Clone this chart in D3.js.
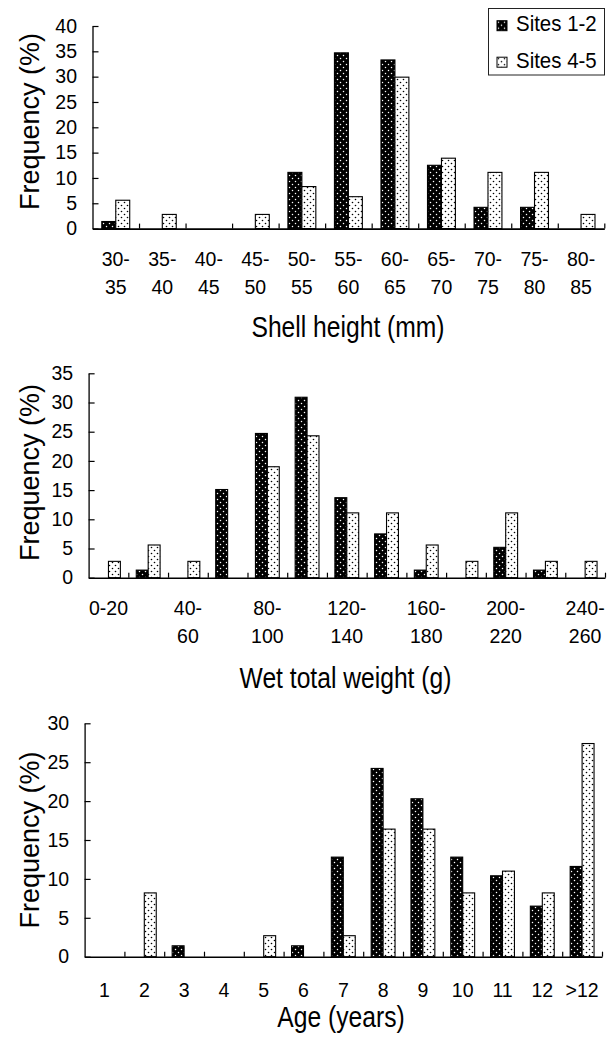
<!DOCTYPE html>
<html>
<head>
<meta charset="utf-8">
<script src="https://cdn.jsdelivr.net/npm/d3@7"></script>
<style>
  body { margin: 0; background: #fff; }
  svg { display: block; }
</style>
</head>
<body>
<div id="chart"></div>
<script>
// Data (frequency, %)
var shellCats = ["30-35", "35-40", "40-45", "45-50", "50-55", "55-60", "60-65", "65-70", "70-75", "75-80", "80-85"];
var shellSites12 = [1.4, 0, 0, 0, 11.1, 34.7, 33.3, 12.5, 4.2, 4.2, 0];
var shellSites45 = [5.6, 2.8, 0, 2.8, 8.3, 6.3, 29.9, 13.9, 11.1, 11.1, 2.8];
var shellLabels = [["30-", "35"], ["35-", "40"], ["40-", "45"], ["45-", "50"], ["50-", "55"], ["55-", "60"],
                   ["60-", "65"], ["65-", "70"], ["70-", "75"], ["75-", "80"], ["80-", "85"]];

var weightCats = ["0-20", "20-40", "40-60", "60-80", "80-100", "100-120", "120-140", "140-160",
                  "160-180", "180-200", "200-220", "220-240", "240-260"];
var weightSites12 = [0, 1.3, 0, 15.1, 24.7, 30.9, 13.7, 7.5, 1.3, 0, 5.2, 1.3, 0];
var weightSites45 = [2.8, 5.6, 2.8, 0, 19.0, 24.3, 11.1, 11.1, 5.6, 2.8, 11.1, 2.8, 2.8];
var weightLabels = [["0-20"], [], ["40-", "60"], [], ["80-", "100"], [], ["120-", "140"], [],
                    ["160-", "180"], [], ["200-", "220"], [], ["240-", "260"]];

var ageCats = ["1", "2", "3", "4", "5", "6", "7", "8", "9", "10", "11", "12", ">12"];
var ageSites12 = [0, 0, 1.4, 0, 0, 1.4, 12.8, 24.2, 20.3, 12.8, 10.4, 6.5, 11.6];
var ageSites45 = [0, 8.2, 0, 0, 2.7, 0, 2.7, 16.4, 16.4, 8.2, 11.0, 8.2, 27.4];
var ageLabels = ageCats.map(function(d) { return [d]; });

var seriesNames = ["Sites 1-2", "Sites 4-5"];

var W = 616, H = 1041;
var font = '"Liberation Sans", Arial, Helvetica, sans-serif';

var svg = d3.select("#chart")
    .append("svg")
    .attr("width", W)
    .attr("height", H)
    .style("font-family", font);

// dotted fills
var defs = svg.append("defs");
var pd = defs.append("pattern")
    .attr("id", "dark")
    .attr("patternUnits", "userSpaceOnUse")
    .attr("width", 6).attr("height", 6);
pd.append("rect").attr("width", 6).attr("height", 6).attr("fill", "#000");
pd.append("circle").attr("cx", 1.5).attr("cy", 1.5).attr("r", 0.75).attr("fill", "#fff");
pd.append("circle").attr("cx", 4.5).attr("cy", 4.5).attr("r", 0.75).attr("fill", "#fff");

var pl = defs.append("pattern")
    .attr("id", "light")
    .attr("patternUnits", "userSpaceOnUse")
    .attr("width", 6).attr("height", 6);
pl.append("rect").attr("width", 6).attr("height", 6).attr("fill", "#fff");
pl.append("circle").attr("cx", 1.5).attr("cy", 1.5).attr("r", 0.8).attr("fill", "#000");
pl.append("circle").attr("cx", 4.5).attr("cy", 4.5).attr("r", 0.8).attr("fill", "#000");

var fills = ["url(#dark)", "url(#light)"];

function panel(cfg) {
    var n = cfg.cats.length;

    var x = d3.scaleBand()
        .domain(cfg.cats)
        .range([cfg.x0, cfg.x1])
        .paddingInner(0.4)
        .paddingOuter(0.2);

    var xSub = d3.scaleBand()
        .domain([0, 1])
        .range([0, x.bandwidth()]);

    // boundaries between categories, for the tick marks
    var xEdge = d3.scaleLinear()
        .domain([0, n])
        .range([cfg.x0, cfg.x1]);

    var y = d3.scaleLinear()
        .domain([0, cfg.max])
        .range([cfg.y0, cfg.yTop]);

    var g = svg.append("g");

    // bars (zero values are not drawn)
    var bars = [];
    cfg.cats.forEach(function(c, i) {
        [cfg.s1[i], cfg.s2[i]].forEach(function(v, j) {
            if (v > 0) bars.push({ cat: c, s: j, v: v });
        });
    });
    g.selectAll("rect.bar")
        .data(bars)
        .enter()
        .append("rect")
        .attr("class", "bar")
        .attr("x", function(d) { return x(d.cat) + xSub(d.s); })
        .attr("y", function(d) { return y(d.v); })
        .attr("width", xSub.bandwidth())
        .attr("height", function(d) { return cfg.y0 - y(d.v); })
        .attr("fill", function(d) { return fills[d.s]; })
        .attr("stroke", "#000")
        .attr("stroke-width", 1.1);

    // x axis: ticks pointing up at the category edges
    var xAxis = g.append("g")
        .attr("transform", "translate(0," + cfg.y0 + ")")
        .call(d3.axisBottom(xEdge)
            .tickValues(d3.range(1, n + 1))
            .tickSize(-5)
            .tickSizeOuter(0)
            .tickFormat(""));
    xAxis.select(".domain").attr("stroke-width", 1.6);
    xAxis.selectAll(".tick line").attr("stroke-width", 1.2);

    // y axis: ticks pointing inside
    var yAxis = g.append("g")
        .attr("transform", "translate(" + cfg.x0 + ",0)")
        .call(d3.axisLeft(y)
            .tickValues(d3.range(0, cfg.max + 1, 5))
            .tickSize(-6)
            .tickSizeOuter(0)
            .tickPadding(15.5));
    yAxis.select(".domain").attr("stroke-width", 1.3);
    yAxis.selectAll(".tick line").attr("stroke-width", 1.2);
    yAxis.selectAll(".tick text")
        .attr("font-family", font)
        .attr("font-size", 19.5)
        .attr("fill", "#000");

    // category labels under the axis
    var lab = g.selectAll("text.cat")
        .data(cfg.labels)
        .enter()
        .append("text")
        .attr("class", "cat")
        .attr("text-anchor", "middle")
        .attr("font-size", 19.5)
        .attr("transform", function(d, i) {
            return "translate(" + (x(cfg.cats[i]) + x.bandwidth() / 2) + "," + (cfg.y0 + cfg.labOff) + ")";
        });
    lab.selectAll("tspan")
        .data(function(d) { return d; })
        .enter()
        .append("tspan")
        .attr("x", 0)
        .attr("y", function(d, k) { return k * 27.5; })
        .text(function(d) { return d; });

    // axis titles
    g.append("text")
        .attr("text-anchor", "middle")
        .attr("font-size", 29)
        .attr("transform", "translate(" + cfg.titleX + "," + cfg.titleY + ") scale(0.85,1)")
        .text(cfg.title);

    g.append("text")
        .attr("text-anchor", "middle")
        .attr("font-size", 27)
        .attr("transform", "translate(39.4," + cfg.yTitleY + ") rotate(-90)")
        .text("Frequency (%)");
}

panel({
    cats: shellCats, s1: shellSites12, s2: shellSites45, labels: shellLabels, max: 40,
    x0: 92.5, x1: 604.3, y0: 228.6, yTop: 26, labOff: 37.4,
    title: "Shell height (mm)", titleX: 348, titleY: 337.3, yTitleY: 121.5
});

panel({
    cats: weightCats, s1: weightSites12, s2: weightSites45, labels: weightLabels, max: 35,
    x0: 88.6, x1: 605, y0: 577.7, yTop: 373.3, labOff: 37.3,
    title: "Wet total weight (g)", titleX: 345.5, titleY: 688, yTitleY: 472.5
});

panel({
    cats: ageCats, s1: ageSites12, s2: ageSites45, labels: ageLabels, max: 30,
    x0: 84.6, x1: 602, y0: 956.7, yTop: 723.3, labOff: 40.6,
    title: "Age (years)", titleX: 341, titleY: 1026.7, yTitleY: 840
});

// legend
var legend = svg.append("g");
legend.append("rect")
    .attr("x", 488.5).attr("y", 8.5)
    .attr("width", 116).attr("height", 66.5)
    .attr("fill", "#fff")
    .attr("stroke", "#222")
    .attr("stroke-width", 1);

var items = legend.selectAll("g.item")
    .data(seriesNames)
    .enter()
    .append("g")
    .attr("class", "item")
    .attr("transform", function(d, i) { return "translate(497," + (20.7 + i * 36.5) + ")"; });
items.append("rect")
    .attr("width", 10).attr("height", 10)
    .attr("fill", function(d, i) { return fills[i]; })
    .attr("stroke", "#000")
    .attr("stroke-width", 1);
items.append("text")
    .attr("font-size", 22)
    .attr("transform", "translate(19,10.5) scale(0.93,1)")
    .text(function(d) { return d; });
</script>
</body>
</html>
